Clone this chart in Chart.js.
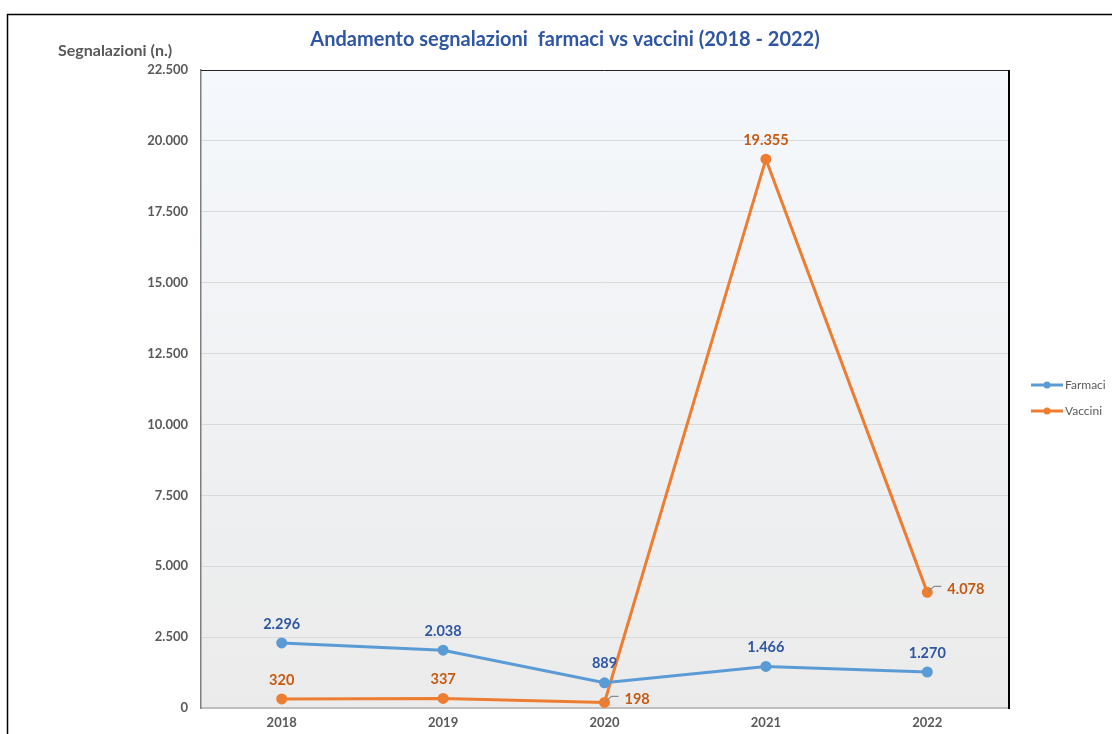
<!DOCTYPE html>
<html>
<head>
<meta charset="utf-8">
<script src="https://cdn.jsdelivr.net/npm/chart.js@4.4.0/dist/chart.umd.min.js"></script>
<style>
  html, body { margin: 0; padding: 0; background: #fff; }
  #wrap { position: relative; width: 1112px; height: 734px; }
</style>
</head>
<body>
<div id="wrap"><canvas id="chart" width="1112" height="734"></canvas></div>
<script>
// --- Data ---
const years = ['2018', '2019', '2020', '2021', '2022'];
const farmaci = [2296, 2038, 889, 1466, 1270];
const vaccini = [320, 337, 198, 19355, 4078];
const yTicks = [0, 2500, 5000, 7500, 10000, 12500, 15000, 17500, 20000, 22500];

const FONT = 'Lato, "Open Sans", sans-serif';
const GREY = '#595959';

function fmt(n) {
  return String(n).replace(/\B(?=(\d{3})+(?!\d))/g, '.');
}

// --- Plugins ---
const frame = {
  id: 'frame',
  beforeDraw(chart) {
    const { ctx, chartArea: a } = chart;
    ctx.save();
    // outer box
    ctx.strokeStyle = '#000';
    ctx.lineWidth = 1.5;
    ctx.beginPath();
    ctx.moveTo(7.5, 740);
    ctx.lineTo(7.5, 14.5);
    ctx.lineTo(1120, 14.5);
    ctx.stroke();
    // plot background
    const g = ctx.createLinearGradient(0, a.top, 0, a.bottom);
    g.addColorStop(0, '#f5f8fc');
    g.addColorStop(1, '#ebebeb');
    ctx.fillStyle = g;
    ctx.fillRect(a.left, a.top, a.right - a.left, a.bottom - a.top);
    ctx.restore();
  },
  afterDraw(chart) {
    const { ctx, chartArea: a } = chart;
    ctx.save();
    ctx.strokeStyle = '#222';
    ctx.lineWidth = 1;
    ctx.beginPath();
    ctx.moveTo(a.left, a.top + 0.5);
    ctx.lineTo(a.right, a.top + 0.5);
    ctx.stroke();
    ctx.strokeStyle = '#000';
    ctx.lineWidth = 2;
    ctx.beginPath();
    ctx.moveTo(a.right + 1, a.top);
    ctx.lineTo(a.right + 1, a.bottom + 1);
    ctx.stroke();

    // title
    ctx.fillStyle = '#2f56a0';
    ctx.font = 'bold 20px ' + FONT;
    ctx.textAlign = 'center';
    ctx.textBaseline = 'middle';
    ctx.fillText('Andamento segnalazioni  farmaci vs vaccini (2018 - 2022)', 565, 40);

    // y axis caption
    ctx.fillStyle = GREY;
    ctx.font = 'bold 16px ' + FONT;
    ctx.textAlign = 'left';
    ctx.fillText('Segnalazioni (n.)', 58, 51);

    // legend
    ctx.font = '12px ' + FONT;
    chart.data.datasets.forEach((ds, i) => {
      const y = 385 + i * 26;
      ctx.strokeStyle = ds.borderColor;
      ctx.lineWidth = 3;
      ctx.beginPath();
      ctx.moveTo(1031, y);
      ctx.lineTo(1063, y);
      ctx.stroke();
      ctx.fillStyle = ds.borderColor;
      ctx.beginPath();
      ctx.arc(1047, y, 3.5, 0, Math.PI * 2);
      ctx.fill();
      ctx.fillStyle = GREY;
      ctx.fillText(ds.label, 1065, y);
    });
    ctx.restore();
  },
  afterDatasetsDraw(chart) {
    const { ctx } = chart;
    ctx.save();
    ctx.font = 'bold 14.5px ' + FONT;
    ctx.textBaseline = 'middle';
    chart.data.datasets.forEach((ds, i) => {
      const meta = chart.getDatasetMeta(i);
      meta.data.forEach((pt, j) => {
        const txt = fmt(ds.data[j]);
        ctx.fillStyle = ds.labelColor;
        if (ds.rightLabels.includes(j)) {
          // leader line towards the label
          ctx.strokeStyle = '#8c8c8c';
          ctx.lineWidth = 1.2;
          ctx.beginPath();
          ctx.moveTo(pt.x + 1, pt.y - 1);
          ctx.lineTo(pt.x + 7, pt.y - 6);
          ctx.lineTo(pt.x + 14, pt.y - 6);
          ctx.stroke();
          ctx.textAlign = 'left';
          ctx.fillText(txt, pt.x + 20, pt.y - 3);
        } else {
          ctx.textAlign = 'center';
          ctx.fillText(txt, pt.x, pt.y - 19);
        }
      });
    });
    ctx.restore();
  }
};

// --- Chart ---
new Chart(document.getElementById('chart'), {
  type: 'line',
  data: {
    labels: years,
    datasets: [
      {
        label: 'Farmaci',
        data: farmaci,
        borderColor: '#5b9bd5',
        backgroundColor: '#5b9bd5',
        labelColor: '#2f56a0',
        rightLabels: [],
        borderWidth: 3,
        pointRadius: 4,
        pointHoverRadius: 4,
        tension: 0
      },
      {
        label: 'Vaccini',
        data: vaccini,
        borderColor: '#ed7d31',
        backgroundColor: '#ed7d31',
        labelColor: '#c55a11',
        rightLabels: [2, 4],
        borderWidth: 3,
        pointRadius: 4,
        pointHoverRadius: 4,
        tension: 0
      }
    ]
  },
  options: {
    responsive: false,
    animation: false,
    layout: { padding: { left: 0, top: 70, right: 104, bottom: 0 } },
    plugins: { legend: { display: false }, tooltip: { enabled: false } },
    scales: {
      x: {
        offset: true,
        afterFit(s) { s.height = 26; },
        grid: { display: false, drawTicks: false },
        border: { color: '#bfbfbf', width: 2 },
        ticks: { color: GREY, font: { family: FONT, size: 13, weight: 'bold' }, padding: 7 }
      },
      y: {
        min: 0,
        max: 22500,
        afterFit(s) { s.width = 201; },
        afterBuildTicks(s) { s.ticks = yTicks.map(v => ({ value: v })); },
        grid: { color: '#d9d9d9', drawTicks: false, lineWidth: 1 },
        border: { color: '#7f7f7f', width: 1.5 },
        ticks: {
          color: GREY,
          font: { family: FONT, size: 13, weight: 'bold' },
          padding: 13,
          callback: v => fmt(v)
        }
      }
    }
  },
  plugins: [frame]
});
</script>
</body>
</html>
